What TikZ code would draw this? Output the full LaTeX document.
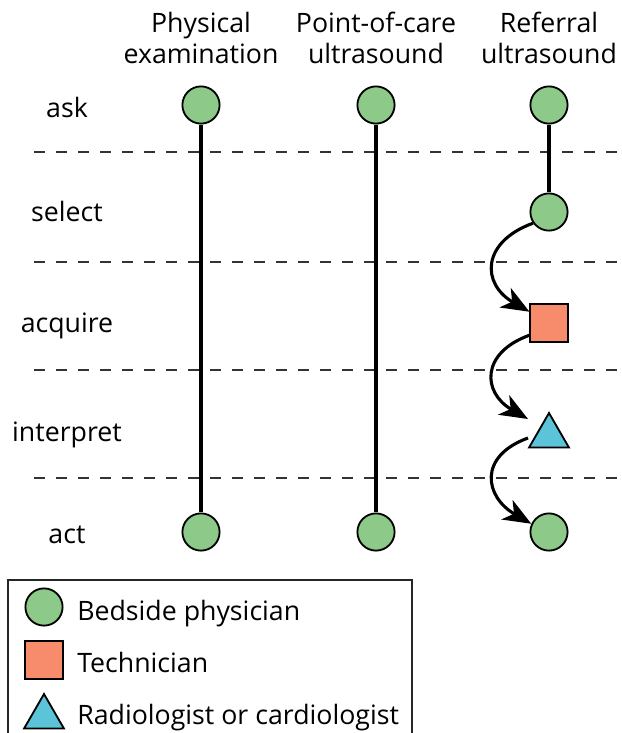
\documentclass[tikz,border=0pt]{standalone}
\usepackage{fontspec}
\setmainfont{Open Sans}
\usetikzlibrary{arrows.meta,shapes.geometric}
\definecolor{docgreen}{RGB}{141,201,137}
\definecolor{techorange}{RGB}{247,140,108}
\definecolor{radblue}{RGB}{91,196,217}

\begin{document}
\begin{tikzpicture}[x=0.025cm, y=-0.025cm,
    every node/.style={font=\fontsize{19pt}{21.5pt}\selectfont},
    doc/.style={circle, draw, line width=1.3pt, fill=docgreen, minimum size=0.93cm, inner sep=0pt},
    tech/.style={rectangle, draw, line width=1.3pt, fill=techorange, minimum size=0.93cm, inner sep=0pt},
    rad/.style={regular polygon, regular polygon sides=3, draw, line width=1.3pt, fill=radblue, minimum size=1.15cm, inner sep=0pt},
    track/.style={line width=2.2pt},
    divider/.style={line width=1.4pt, color=black!80, dash pattern=on 0.28cm off 0.27cm},
    handoff/.style={line width=2.2pt, -{Stealth[length=0.7cm, width=0.56cm, inset=0.2cm]}, looseness=1.6},
    rowlabel/.style={anchor=base},
    keytext/.style={anchor=base west, inner sep=0pt},
    ]
    \useasboundingbox (0,0) rectangle (621,733);

    % column headers
    \node[align=center] (hPhys) at (201,38) {Physical\\examination};
    \node[align=center] (hPoc) at (376,38) {Point-of-care\\ultrasound};
    \node[align=center] (hRef) at (549,38) {Referral\\ultrasound};

    % row labels
    \node[rowlabel] (lAsk) at (67,117) {ask};
    \node[rowlabel] (lSelect) at (67,221) {select};
    \node[rowlabel] (lAcquire) at (67,332) {acquire};
    \node[rowlabel] (lInterpret) at (67,441) {interpret};
    \node[rowlabel] (lAct) at (67,543) {act};

    % dividers
    \draw[divider] (34,152) -- (621,152);
    \draw[divider] (34,262) -- (621,262);
    \draw[divider] (34,370) -- (621,370);
    \draw[divider] (34,478) -- (621,478);

    % steps
    \node[doc] (physAsk) at (201,105) {};
    \node[doc] (physAct) at (201,532) {};
    \node[doc] (pocAsk) at (376,105) {};
    \node[doc] (pocAct) at (376,532) {};
    \node[doc] (refAsk) at (549,105) {};
    \node[doc] (refSelect) at (549,212) {};
    \node[tech] (refAcquire) at (549,323) {};
    \node[rad] (refInterpret) at (549,436) {};
    \node[doc] (refAct) at (549,532) {};

    \draw[track] (physAsk) -- (physAct);
    \draw[track] (pocAsk) -- (pocAct);
    \draw[track] (refAsk) -- (refSelect);

    \coordinate (triIn) at (528,419);
    \coordinate (triOut) at (528,438);
    \draw[handoff] (refSelect.215) to[out=200, in=150] (refAcquire.150);
    \draw[handoff] (refAcquire.212) to[out=200, in=150] (triIn);
    \draw[handoff] (triOut) to[out=200, in=150] (refAct.155);

    % legend
    \draw[line width=1pt, color=black!85] (8,580) rectangle (412,760);
    \node[doc] (keyDoc) at (44,607) {};
    \node[tech] (keyTech) at (44,660) {};
    \node[rad] (keyRad) at (44,717) {};
    \node[keytext] (tDoc) at (77,620) {Bedside physician};
    \node[keytext] (tTech) at (77,672) {Technician};
    \node[keytext] (tRad) at (77,724) {Radiologist or cardiologist};
\end{tikzpicture}
\end{document}
